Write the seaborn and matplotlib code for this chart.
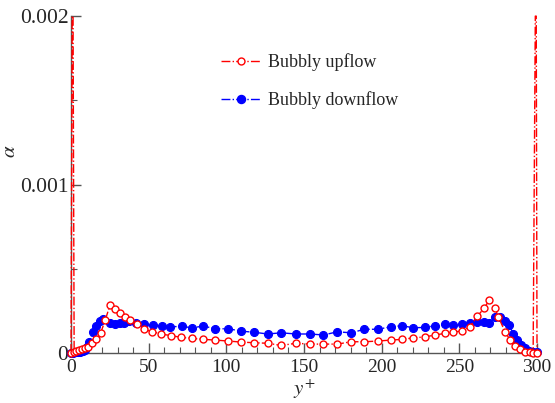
import numpy as np
import pandas as pd
import matplotlib
matplotlib.use("Agg")
import matplotlib.pyplot as plt
from matplotlib.lines import Line2D
from matplotlib.ticker import MultipleLocator, FixedLocator, FixedFormatter
import seaborn as sns

# Bubbly upflow (red, open circles) -- spikes at both walls
yplus_up = [0, 0.7, 1.3, 2, 3.5, 5, 7, 9, 11,
            13.3, 16.1, 19.1, 22, 25.1, 28.3, 31.6, 34.8, 38,
            42.7, 47.2, 52.3, 58.1, 64.4, 71, 78.1, 85.2, 92.7,
            101.3, 109.5, 118, 126.7, 135.2, 144.9, 153.9, 162.5, 171.5,
            180.3, 188.9, 197.5, 206, 212.9, 220.4, 228, 234.4, 240.8,
            246.2, 251.6, 256.9, 261.6, 265.9, 269.3, 273, 275.1, 279.4,
            282.7, 285.9, 289.1, 292.3, 295.6, 297.5, 298.9, 299.5, 300]
alpha_up = [0, 0.002, 0.002, 5e-6, 1e-5, 1.8e-5, 2.5e-5, 3e-5, 3.5e-5,
            5.8e-5, 8.1e-5, 1.2e-4, 1.95e-4, 2.85e-4, 2.6e-4, 2.36e-4, 2.15e-4, 1.96e-4,
            1.7e-4, 1.4e-4, 1.27e-4, 1.13e-4, 1.03e-4, 9.3e-5, 8.7e-5, 8.1e-5, 7.7e-5,
            7.1e-5, 6.5e-5, 6.1e-5, 5.8e-5, 4.5e-5, 5.8e-5, 5.3e-5, 5.3e-5, 5.3e-5,
            6.7e-5, 6.7e-5, 7.1e-5, 7.7e-5, 8.1e-5, 9e-5, 9.6e-5, 1.07e-4, 1.17e-4,
            1.23e-4, 1.32e-4, 1.56e-4, 2.19e-4, 2.65e-4, 3.15e-4, 2.65e-4, 2.15e-4, 1.26e-4,
            7.7e-5, 4.2e-5, 2.2e-5, 8e-6, 5e-6, 3e-6, 0.002, 0.002, 0]

# Bubbly downflow (blue, filled circles)
yplus_down = [0, 1.5, 3, 4.5, 6, 7.5, 9, 10.5, 11.8,
              14, 16.1, 18.7, 20.8, 25.1, 28.3, 31.6, 34.1, 37.3,
              41.9, 47, 52.5, 58.3, 64, 71.2, 78.1, 85.2, 93,
              101.3, 109.5, 118, 126.7, 135.2, 144.9, 153.9, 162.5, 171.5,
              180.3, 188.9, 197.5, 206, 212.9, 220.4, 228, 234.4, 240.8,
              246.2, 251.6, 256.9, 261.6, 265.9, 269.3, 273, 276.2, 279.4,
              282.2, 284.8, 287.4, 289.8, 292.3, 295.1, 297.7, 299.9]
alpha_down = [0, 2e-6, 4e-6, 6e-6, 8e-6, 1.2e-5, 1.8e-5, 3.5e-5, 6.7e-5,
              1.26e-4, 1.6e-4, 1.92e-4, 2e-4, 1.76e-4, 1.72e-4, 1.76e-4, 1.8e-4, 1.92e-4,
              1.8e-4, 1.7e-4, 1.66e-4, 1.62e-4, 1.56e-4, 1.58e-4, 1.5e-4, 1.6e-4, 1.44e-4,
              1.44e-4, 1.3e-4, 1.23e-4, 1.13e-4, 1.2e-4, 1.13e-4, 1.13e-4, 1.07e-4, 1.26e-4,
              1.2e-4, 1.41e-4, 1.41e-4, 1.56e-4, 1.62e-4, 1.5e-4, 1.52e-4, 1.62e-4, 1.7e-4,
              1.66e-4, 1.7e-4, 1.76e-4, 1.82e-4, 1.82e-4, 1.76e-4, 2.15e-4, 2.15e-4, 1.92e-4,
              1.66e-4, 1.11e-4, 7.7e-5, 4.7e-5, 2.8e-5, 1.2e-5, 8e-6, 8e-6]

labels = ["Bubbly upflow", "Bubbly downflow"]
y_ticks = [0, 0.001, 0.002]
y_ticklabels = ["0", "0.001", "0.002"]

sns.set_style("ticks")
plt.rcParams["font.family"] = ["Liberation Serif", "DejaVu Serif"]
plt.rcParams["mathtext.fontset"] = "stix"

up = pd.DataFrame({"yplus": yplus_up, "alpha": alpha_up})
down = pd.DataFrame({"yplus": yplus_down, "alpha": alpha_down})
ymax = 0.002
up_marks = [i for i, v in enumerate(alpha_up) if v < ymax]

fig = plt.figure(figsize=(5.55, 4.03), dpi=100)
ax = fig.add_axes([0.128, 0.124, 0.8396, 0.836])

sns.lineplot(data=down, x="yplus", y="alpha", sort=False, estimator=None, ax=ax,
             color="#0000ff", linestyle="-.", linewidth=1.0, marker="o",
             markersize=5.8, markerfacecolor="#0000ff", markeredgecolor="#0000ff",
             clip_on=False, zorder=3)
sns.lineplot(data=up, x="yplus", y="alpha", sort=False, estimator=None, ax=ax,
             color="#ff0000", linestyle="-.", linewidth=1.0, marker="o",
             markersize=5, markerfacecolor="white", markeredgecolor="#ff0000",
             markeredgewidth=1.0, markevery=up_marks, clip_on=False, zorder=4)

ax.set_xlim(0, 300)
ax.set_ylim(0, ymax)
ax.xaxis.set_major_locator(MultipleLocator(50))
ax.xaxis.set_minor_locator(MultipleLocator(10))
ax.yaxis.set_major_locator(FixedLocator(y_ticks))
ax.yaxis.set_major_formatter(FixedFormatter(y_ticklabels))
ax.yaxis.set_minor_locator(MultipleLocator(0.0005))

for s in ["top", "right"]:
    ax.spines[s].set_visible(False)
for s in ["left", "bottom"]:
    ax.spines[s].set_color("#555555")
    ax.spines[s].set_linewidth(1.0)

ax.tick_params(axis="both", which="both", direction="in", color="#555555")
ax.tick_params(axis="both", which="major", length=7, width=1)
ax.tick_params(axis="both", which="minor", length=4, width=0.8)
ax.tick_params(axis="x", which="major", labelsize=14, pad=4)
ax.tick_params(axis="y", which="major", labelsize=15.5, pad=2)

ax.set_xlabel("$y^{+}$", fontsize=15, labelpad=1)
ax.set_ylabel(r"$\alpha$", fontsize=15)
ax.yaxis.set_label_coords(-0.11, 0.6)

handles = [
    Line2D([], [], color="#ff0000", linestyle="-.", linewidth=1.0, marker="o",
           markersize=5, markerfacecolor="white", markeredgecolor="#ff0000"),
    Line2D([], [], color="#0000ff", linestyle="-.", linewidth=1.0, marker="o",
           markersize=5.8, markerfacecolor="#0000ff", markeredgecolor="#0000ff"),
]
ax.legend(handles, labels, loc="upper left", bbox_to_anchor=(0.288, 0.937),
          frameon=False, fontsize=13, handlelength=2.2, labelspacing=1.1,
          handletextpad=0.4, numpoints=1)

fig.savefig("out.png", dpi=100)
